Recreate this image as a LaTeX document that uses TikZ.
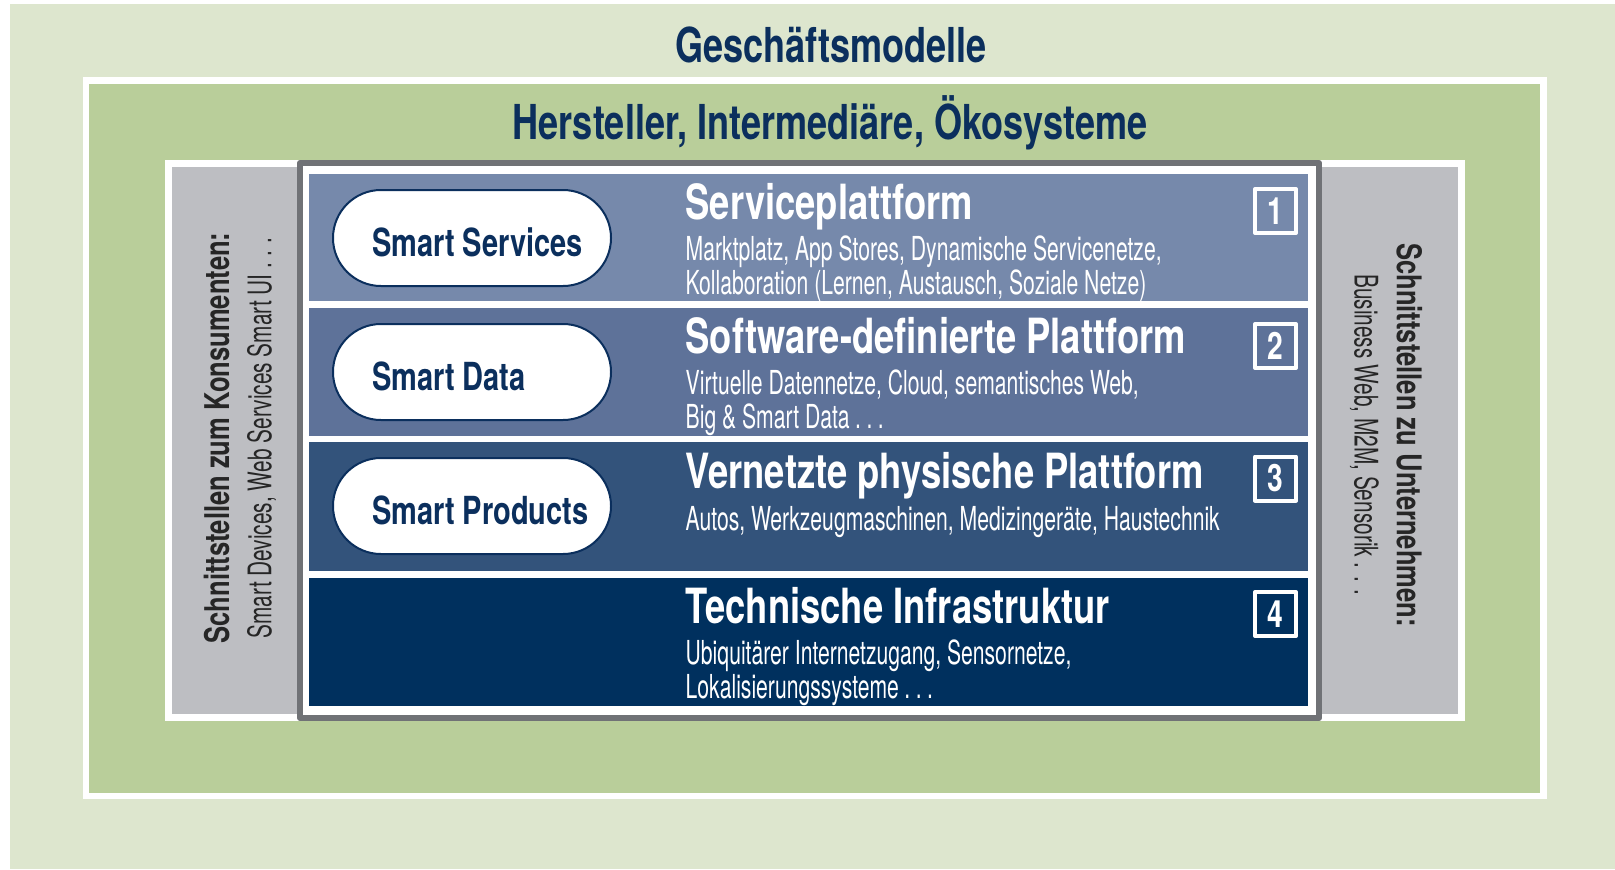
\documentclass[tikz,border=0pt]{standalone}
\usepackage{fontspec}
\setmainfont{TeX Gyre Heros}
\newfontfamily\condbold{TeX Gyre Heros}[FakeStretch=0.75]
\newfontfamily\condlight{TeX Gyre Heros}[FakeStretch=0.64]
\usepackage{xcolor}
\usepackage{tikz}
\usetikzlibrary{positioning}

\definecolor{bglight}{HTML}{DDE6CE}
\definecolor{bgmid}{HTML}{B9CE9A}
\definecolor{panelgray}{HTML}{BDBEC2}
\definecolor{framegray}{HTML}{707276}
\definecolor{bandone}{HTML}{7689AB}
\definecolor{bandtwo}{HTML}{5E7299}
\definecolor{bandthree}{HTML}{33537B}
\definecolor{bandfour}{HTML}{00305E}
\definecolor{navy}{HTML}{0B2F5D}
\definecolor{sidetext}{HTML}{262626}

\newcommand{\pilltext}[1]{\makebox[2cm][l]{#1}}

\begin{document}
\begin{tikzpicture}[line join=round,
    title/.style={font=\condbold\bfseries\fontsize{13.7}{16}\selectfont, text=navy, anchor=base, inner sep=0pt},
    head/.style={font=\condbold\bfseries\fontsize{13.8}{16}\selectfont, text=white, anchor=base west, inner sep=0pt},
    sub/.style={font=\condlight\fontsize{9.4}{9.4}\selectfont, text=white, anchor=base west, align=left, inner sep=0pt},
    pill/.style={draw=navy, line width=0.02cm, fill=white, rounded corners=0.48cm,
        minimum width=2.78cm, minimum height=0.96cm, inner xsep=0.3cm,
        text height=0.36cm, text depth=0cm, text=navy,
        font=\condbold\bfseries\fontsize{11}{13}\selectfont},
    numbox/.style={draw=white, line width=0.04cm, minimum width=0.41cm, minimum height=0.44cm,
        inner sep=0pt, text=white, font=\condbold\bfseries\fontsize{10.7}{12}\selectfont},
    side/.style={text=sidetext, align=center, inner sep=0pt}]

    % page and outer field
    \fill[white] (0,0) rectangle (16.15,-8.69);
    \fill[bglight] (0.10,-0.04) rectangle (16.15,-8.69);
    \node[title] (geschaeft) at (8.31,-0.63) {Geschäftsmodelle};

    % second field with white rim
    \fill[white] (0.83,-0.77) rectangle (15.47,-7.99);
    \fill[bgmid] (0.89,-0.84) rectangle (15.40,-7.93);
    \node[title] (hersteller) at (8.30,-1.40) {Hersteller, Intermediäre, Ökosysteme};

    % side panels
    \fill[white] (1.65,-1.60) rectangle (14.65,-7.21);
    \fill[panelgray] (1.72,-1.67) rectangle (2.97,-7.14);
    \fill[panelgray] (13.22,-1.67) rectangle (14.58,-7.14);

    % platform frame
    \filldraw[fill=white, draw=framegray, line width=0.06cm] (3.00,-1.63) rectangle (13.19,-7.18);

    % layers
    \fill[bandone] (3.09,-1.74) rectangle (13.08,-3.01);
    \fill[bandtwo] (3.09,-3.08) rectangle (13.08,-4.36);
    \fill[bandthree] (3.09,-4.42) rectangle (13.08,-5.71);
    \fill[bandfour] (3.09,-5.78) rectangle (13.08,-7.06);

    % smart pills
    \node[pill] (services) at (4.72,-2.38) {\pilltext{Smart Services}};
    \node[pill] (data) at (4.72,-3.72) {\pilltext{Smart Data}};
    \node[pill] (products) at (4.72,-5.06) {\pilltext{Smart Products}};

    % layer 1 (two-line text sits on its last baseline)
    \node[head] (service) at (6.85,-2.19) {Serviceplattform};
    \node[sub] (servicesub) at (6.85,-2.94) {Marktplatz, App Stores, Dynamische Servicenetze,\\Kollaboration (Lernen, Austausch, Soziale Netze)};
    \node[numbox] (one) at (12.755,-2.11) {1};

    % layer 2
    \node[head] (software) at (6.85,-3.53) {Software-definierte Plattform};
    \node[sub] (softwaresub) at (6.85,-4.28) {Virtuelle Datennetze, Cloud, semantisches Web,\\Big \& Smart Data\,.\,.\,.};
    \node[numbox] (two) at (12.755,-3.46) {2};

    % layer 3
    \node[head] (physisch) at (6.85,-4.88) {Vernetzte physische Plattform};
    \node[sub] (physischsub) at (6.85,-5.30) {Autos, Werkzeugmaschinen, Medizingeräte, Haustechnik};
    \node[numbox] (three) at (12.755,-4.785) {3};

    % layer 4
    \node[head] (technik) at (6.85,-6.23) {Technische Infrastruktur};
    \node[sub] (techniksub) at (6.85,-6.98) {Ubiquitärer Internetzugang, Sensornetze,\\Lokalisierungssysteme\,.\,.\,.};
    \node[numbox] (four) at (12.755,-6.14) {4};

    % interfaces left and right
    \node[side, rotate=90] (konsument) at (2.40,-4.38)
        {{\condbold\bfseries\fontsize{9.7}{10.9}\selectfont Schnittstellen zum Konsumenten:}\\
         {\condlight\fontsize{9.25}{10.9}\selectfont Smart Devices, Web Services Smart UI . . .}};
    \node[side, rotate=-90] (unternehmen) at (13.86,-4.35)
        {{\condbold\bfseries\fontsize{9.7}{11.4}\selectfont Schnittstellen zu Unternehmen:}\\
         {\condlight\fontsize{9.25}{11.4}\selectfont Business Web, M2M, Sensorik . . .}};
\end{tikzpicture}
\end{document}
